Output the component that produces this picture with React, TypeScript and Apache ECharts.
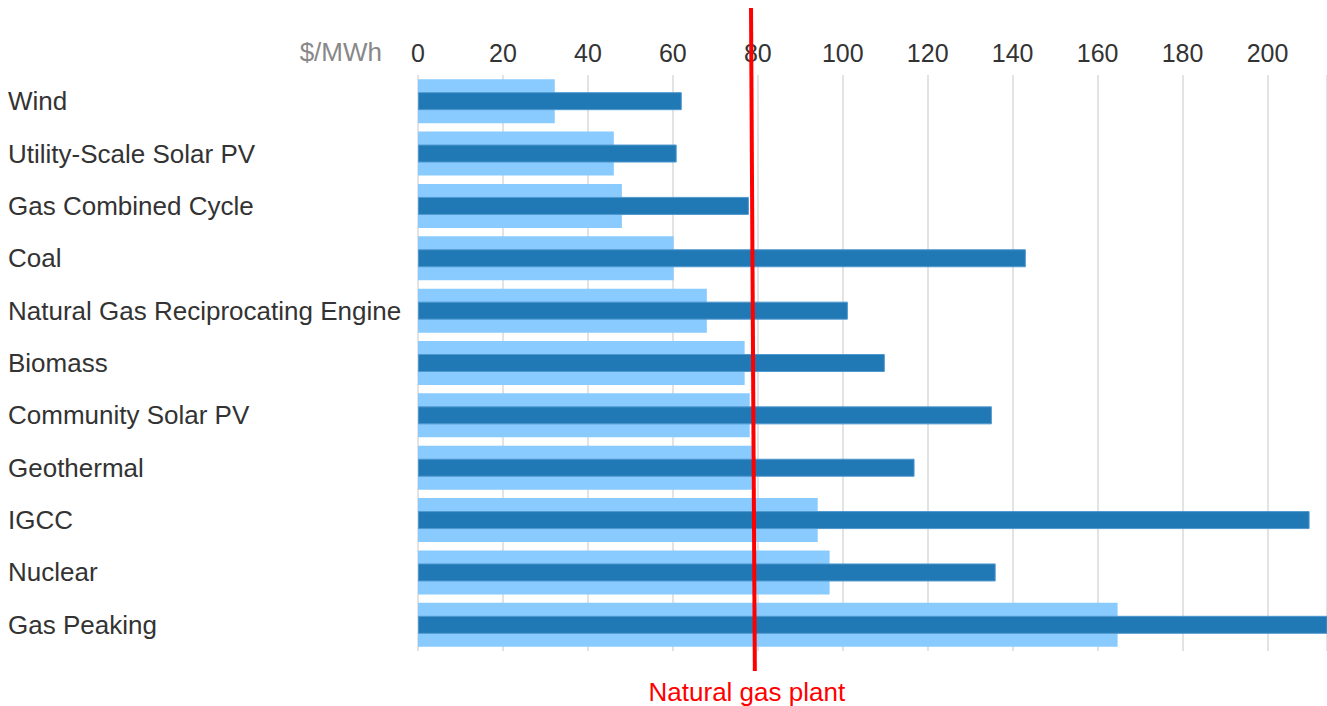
import React, { useEffect, useRef } from "react";
import * as echarts from "echarts";

const categories = [
  "Wind",
  "Utility-Scale Solar PV",
  "Gas Combined Cycle",
  "Coal",
  "Natural Gas Reciprocating Engine",
  "Biomass",
  "Community Solar PV",
  "Geothermal",
  "IGCC",
  "Nuclear",
  "Gas Peaking",
];
const lowCost = [32.2, 46.1, 48.0, 60.2, 68.0, 76.9, 78.1, 78.6, 94.1, 96.9, 164.7];
const highCost = [62.1, 60.9, 77.9, 143.1, 101.2, 109.9, 135.1, 116.9, 209.9, 136.0, 240];
const axisMin = 0;
const axisMax = 214;
const tickStep = 20;
const gasPlantTop = 78.4;
const gasPlantBottom = 79.3;
const unitLabel = "$/MWh";
const gasPlantLabel = "Natural gas plant";

const FONT = "Liberation Sans, Arial, Helvetica, sans-serif";

export default function App() {
  const ref = useRef<HTMLDivElement>(null);
  useEffect(() => {
    document.body.style.margin = "0";
    if (!ref.current) return;
    const chart = echarts.init(ref.current, undefined, { renderer: "svg" });
    const gridLeft = 418;
    const gridTop = 75;
    const gridBottom = 55;
    chart.setOption({
      animation: false,
      textStyle: { fontFamily: FONT },
      grid: { left: gridLeft, right: 0, top: gridTop, bottom: gridBottom, containLabel: false },
      xAxis: {
        type: "value",
        position: "top",
        min: axisMin,
        max: axisMax,
        interval: tickStep,
        axisLine: { show: false },
        axisTick: { show: false },
        axisLabel: {
          color: "#333",
          fontSize: 25,
          fontFamily: FONT,
          margin: 10,
          showMaxLabel: false,
          formatter: (v: number) => (v % tickStep === 0 ? String(v) : ""),
        },
        splitLine: { show: true, lineStyle: { color: "#e3e3e3", width: 2 } },
      },
      yAxis: [
        {
          type: "category",
          data: categories,
          inverse: true,
          axisLine: { show: false },
          axisTick: { show: false },
          axisLabel: {
            color: "#333",
            fontSize: 26,
            fontFamily: FONT,
            align: "left",
            margin: gridLeft - 8,
          },
        },
        {
          type: "category",
          data: categories,
          inverse: true,
          show: false,
        },
      ],
      series: [
        {
          name: "Low",
          type: "bar",
          yAxisIndex: 0,
          data: lowCost,
          barWidth: 44,
          itemStyle: { color: "#89cbfe" },
          clip: true,
        },
        {
          name: "High",
          type: "bar",
          yAxisIndex: 1,
          data: highCost,
          barWidth: 18,
          itemStyle: { color: "#2078b4", borderColor: "#4f98cf", borderWidth: 1 },
          clip: true,
        },
      ],
    });
    const xTop = chart.convertToPixel({ xAxisIndex: 0 }, gasPlantTop) as number;
    const xBot = chart.convertToPixel({ xAxisIndex: 0 }, gasPlantBottom) as number;
    const x0 = chart.convertToPixel({ xAxisIndex: 0 }, axisMin) as number;
    chart.setOption({
      graphic: [
        {
          type: "line",
          shape: { x1: xTop, y1: 8, x2: xBot, y2: 671 },
          style: { stroke: "#ff0000", lineWidth: 4 },
          z: 100,
        },
        {
          type: "text",
          x: xBot - 8,
          y: 692,
          style: {
            text: gasPlantLabel,
            fill: "#ff0000",
            font: `26px ${FONT}`,
            align: "center",
            verticalAlign: "middle",
          },
          z: 100,
        },
        {
          type: "text",
          x: x0 - 36,
          y: 52,
          style: {
            text: unitLabel,
            fill: "#888",
            font: `26px ${FONT}`,
            align: "right",
            verticalAlign: "middle",
          },
        },
      ],
    });
    return () => chart.dispose();
  }, []);
  return <div ref={ref} style={{ width: 1327, height: 706 }} />;
}
